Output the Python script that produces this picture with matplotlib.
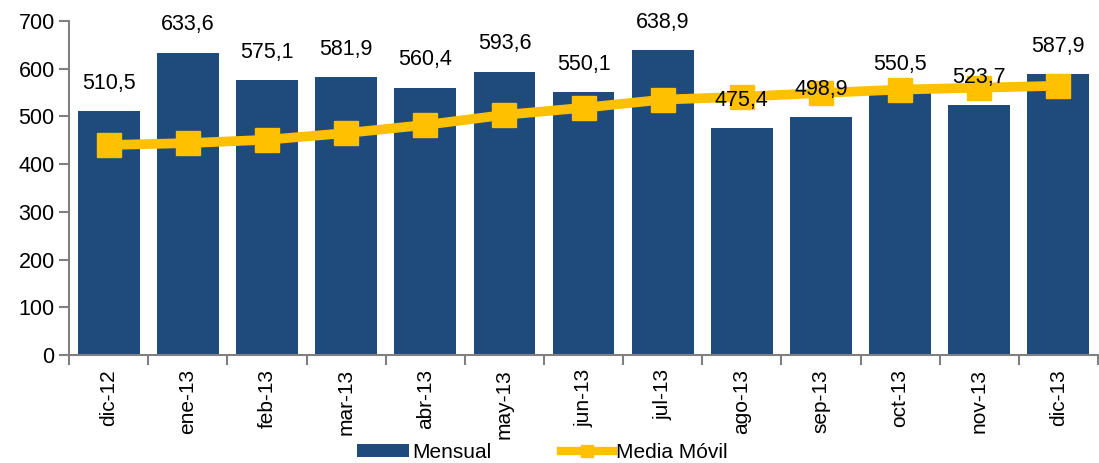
import matplotlib
matplotlib.use("Agg")
import matplotlib.pyplot as plt
import numpy as np
from matplotlib.patches import Patch
from matplotlib.lines import Line2D

plt.rcParams['font.family'] = ['Liberation Sans', 'DejaVu Sans']

# data
meses = ['dic-12', 'ene-13', 'feb-13', 'mar-13', 'abr-13', 'may-13', 'jun-13',
         'jul-13', 'ago-13', 'sep-13', 'oct-13', 'nov-13', 'dic-13']
mensual = [510.5, 633.6, 575.1, 581.9, 560.4, 593.6, 550.1,
           638.9, 475.4, 498.9, 550.5, 523.7, 587.9]
media_movil = [440, 444, 451, 465, 482, 503, 518, 535, 541, 549, 556, 560, 564]

azul = '#1F4A7C'
amarillo = '#FFC000'

x = np.arange(len(meses))

fig = plt.figure(figsize=(10.99, 4.63), dpi=100)
ax = fig.add_axes([0.063, 0.233, 0.936, 0.722])

ax.bar(x, mensual, 0.78, color=azul, zorder=2)
ax.plot(x, media_movil, color=amarillo, lw=7, marker='s', markersize=17, zorder=3)

for xi, v in zip(x, mensual):
    ax.annotate('{:.1f}'.format(v).replace('.', ','), xy=(xi, v), xytext=(0, 20),
                textcoords='offset points', ha='center', va='center',
                fontsize=15.5, zorder=4)

ax.set_xlim(-0.5, len(meses) - 0.5)
ax.set_ylim(0, 700)
ax.set_yticks(range(0, 701, 100))
ax.set_xticks(x)
ax.set_xticklabels(meses, rotation=90, fontsize=15)
ax.set_xticks(np.arange(-0.5, len(meses), 1), minor=True)
ax.tick_params(axis='x', which='major', length=0, pad=10)
ax.tick_params(axis='x', which='minor', length=7, width=1.5, color='#808080')
ax.tick_params(axis='y', length=7, width=1.5, color='#808080', labelsize=15.5)

for s in ['top', 'right']:
    ax.spines[s].set_visible(False)
for s in ['left', 'bottom']:
    ax.spines[s].set_color('#808080')
    ax.spines[s].set_linewidth(1.5)

handles = [Patch(facecolor=azul, label='Mensual'),
           Line2D([0], [0], color=amarillo, lw=6, marker='s', markersize=9,
                  label='Media Móvil')]
ax.legend(handles=handles, loc='center', bbox_to_anchor=(0.46, -0.29), ncol=2,
          frameon=False, fontsize=15, handlelength=2.5, handleheight=0.6,
          columnspacing=3.3, handletextpad=0.15, borderpad=0)

plt.savefig('out.png', dpi=100)
